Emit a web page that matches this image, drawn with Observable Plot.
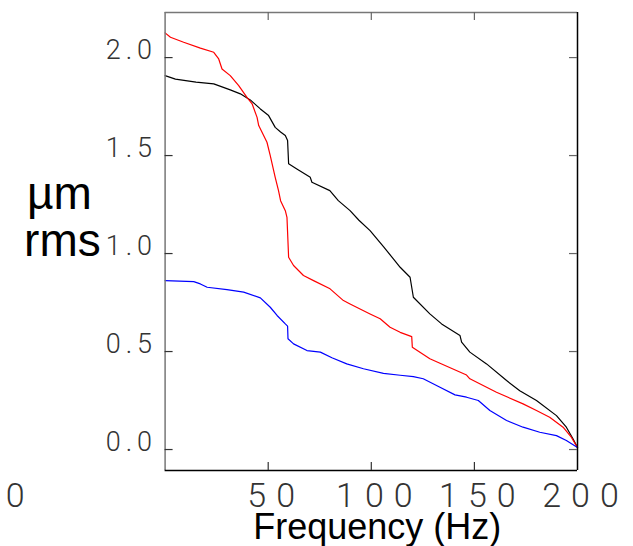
<!DOCTYPE html>
<html>
<head>
<meta charset="utf-8">
<script src="https://cdn.jsdelivr.net/npm/d3@7"></script>
<script src="https://cdn.jsdelivr.net/npm/@observablehq/plot@0.6"></script>
<style>
  html, body { margin: 0; padding: 0; background: #fff; }
  #chart svg { display: block; }
  #chart g[font-size="27"] text { letter-spacing: 5px; }
  #chart g[font-size="34"] text { letter-spacing: 10px; }
</style>
</head>
<body>
<div id="chart"></div>
<script>
// ---- Data ----
const blackF = [0,5,15,23.6,31.6,36.5,41.3,46.2,50.2,53.4,56,58.3,59.4,59.9,63.9,70.4,71.2,79.9,84,89.7,94,99.4,105.9,110.7,114,118.8,120.4,128.4,134.1,143,143.8,147.8,155.9,165.6,172,180.1,189.8,194.6,197.8,200];
const blackV = [1.908,1.89,1.875,1.866,1.835,1.815,1.784,1.738,1.704,1.644,1.62,1.602,1.577,1.458,1.432,1.389,1.364,1.321,1.27,1.219,1.17,1.117,1.035,0.973,0.93,0.879,0.777,0.692,0.641,0.582,0.548,0.497,0.437,0.352,0.30,0.25,0.173,0.114,0.055,0.01];

const redF = [0,2.6,9,17.1,23.6,26,27.6,31.6,35.7,39.7,42.2,44.6,45.4,49.4,51,53.4,55,56,58.3,59.1,59.9,62.3,67.1,72,80,86.5,89.7,99.4,104.3,109.1,114,119.6,119.9,128.4,133.3,146.2,147.8,160.7,173.6,180.1,186.5,193,197,200];
const redV = [2.126,2.104,2.078,2.048,2.027,1.993,1.942,1.908,1.857,1.797,1.764,1.695,1.653,1.568,1.5,1.389,1.321,1.27,1.219,1.185,0.981,0.939,0.888,0.862,0.82,0.76,0.743,0.692,0.667,0.624,0.598,0.576,0.522,0.463,0.44,0.38,0.361,0.292,0.233,0.199,0.165,0.114,0.063,0.01];

const blueF = [0,13.9,17.1,20.4,30,38.1,46.2,51,54.3,58.3,59.4,59.6,62.3,68.8,75.3,80.9,88.1,96.2,105.9,114,120.4,125.2,133.3,140.6,146.2,151.9,157.5,165.6,173.6,181.7,189.8,194.6,200];
const blueV = [0.862,0.857,0.845,0.828,0.816,0.803,0.774,0.726,0.684,0.641,0.63,0.565,0.539,0.505,0.497,0.468,0.437,0.412,0.389,0.379,0.372,0.361,0.318,0.279,0.267,0.25,0.199,0.148,0.114,0.088,0.071,0.046,0.01];

const seriesNames = ["black", "red", "blue"];
const seriesColors = ["#000000", "#ff0000", "#0000ff"];

const xTickValues = [50, 100, 150];
const xTickLabels = [50, 100, 150, 200];
const xZeroLabel = [0];
const yTickValues = [0, 0.5, 1.0, 1.5, 2.0];

const xTitle = "Frequency (Hz)";
const yTitle1 = "µm";
const yTitle2 = "rms";

// ---- Build table ----
const table = [];
[[blackF, blackV], [redF, redV], [blueF, blueV]].forEach(([fs, vs], i) => {
  fs.forEach((f, j) => table.push({series: seriesNames[i], f, v: vs[j]}));
});

const X0 = 0, X1 = 200, Y0 = -0.107, Y1 = 2.23;
const tickLenX = 8 / 2.066; // ~8px in x units
const tickLenY = 8 / 196;   // ~8px in y units

const labelFont = "Roboto, 'DejaVu Sans', sans-serif";
const titleFont = "'Liberation Sans', Arial, sans-serif";

const xLS = 10;
const xLabelStyle = {
  frameAnchor: "bottom", lineAnchor: "bottom", dy: 36,
  fontSize: 34, fontWeight: 300, fill: "#333", fontFamily: labelFont
};

const chart = Plot.plot({
  width: 633,
  height: 546,
  marginLeft: 164.6,
  marginRight: 56,
  marginTop: 12,
  marginBottom: 76,
  x: {domain: [X0, X1], axis: null},
  y: {domain: [Y0, Y1], axis: null},
  color: {domain: seriesNames, range: seriesColors},
  style: {background: "#fff", overflow: "visible"},
  marks: [
    // series
    Plot.line(table, {x: "f", y: "v", z: "series", stroke: "series", strokeWidth: 1.2}),
    // frame: left/top gray, right/bottom black
    Plot.ruleX([X0], {y1: Y0, y2: Y1, stroke: "#777", strokeWidth: 1.5}),
    Plot.ruleY([Y1], {x1: X0, x2: X1, stroke: "#777", strokeWidth: 1.5}),
    Plot.ruleX([X1], {y1: Y0, y2: Y1, stroke: "#000", strokeWidth: 1.5}),
    Plot.ruleY([Y0], {x1: X0, x2: X1, stroke: "#000", strokeWidth: 1.5}),
    // inward ticks
    Plot.ruleX(xTickValues, {y1: Y0, y2: Y0 + tickLenY, stroke: "#333", strokeWidth: 1.2}),
    Plot.ruleX(xTickValues, {y1: Y1, y2: Y1 - tickLenY, stroke: "#666", strokeWidth: 1.2}),
    Plot.ruleY(yTickValues, {x1: X0, x2: X0 + tickLenX, stroke: "#333", strokeWidth: 1.2}),
    Plot.ruleY(yTickValues, {x1: X1, x2: X1 - tickLenX, stroke: "#666", strokeWidth: 1.2}),
    // y tick labels
    Plot.text(yTickValues, {
      x: X0, y: d => d, text: d => d.toFixed(1),
      textAnchor: "end", lineAnchor: "bottom", dx: -8, dy: 1,
      fontSize: 27, fontWeight: 300, fill: "#333", fontFamily: labelFont
    }),
    // x tick labels
    Plot.text(xTickLabels, {x: d => d, text: d => String(d), dx: 3 + xLS / 2, ...xLabelStyle}),
    Plot.text(xZeroLabel, {x: d => d, text: d => String(d), dx: -150 + xLS / 2, ...xLabelStyle}),
    // axis titles
    Plot.text([xTitle], {
      frameAnchor: "bottom", text: d => d, lineAnchor: "bottom",
      dx: 6, dy: 68, fontSize: 36, fill: "#000", fontFamily: titleFont
    }),
    Plot.text([yTitle1], {
      frameAnchor: "top-left", text: d => d, textAnchor: "start", lineAnchor: "bottom",
      dx: -138, dy: 196, fontSize: 46, fill: "#000", fontFamily: titleFont
    }),
    Plot.text([yTitle2], {
      frameAnchor: "top-left", text: d => d, textAnchor: "start", lineAnchor: "bottom",
      dx: -141, dy: 243, fontSize: 46, fill: "#000", fontFamily: titleFont
    })
  ]
});

document.getElementById("chart").appendChild(chart);
</script>
</body>
</html>
